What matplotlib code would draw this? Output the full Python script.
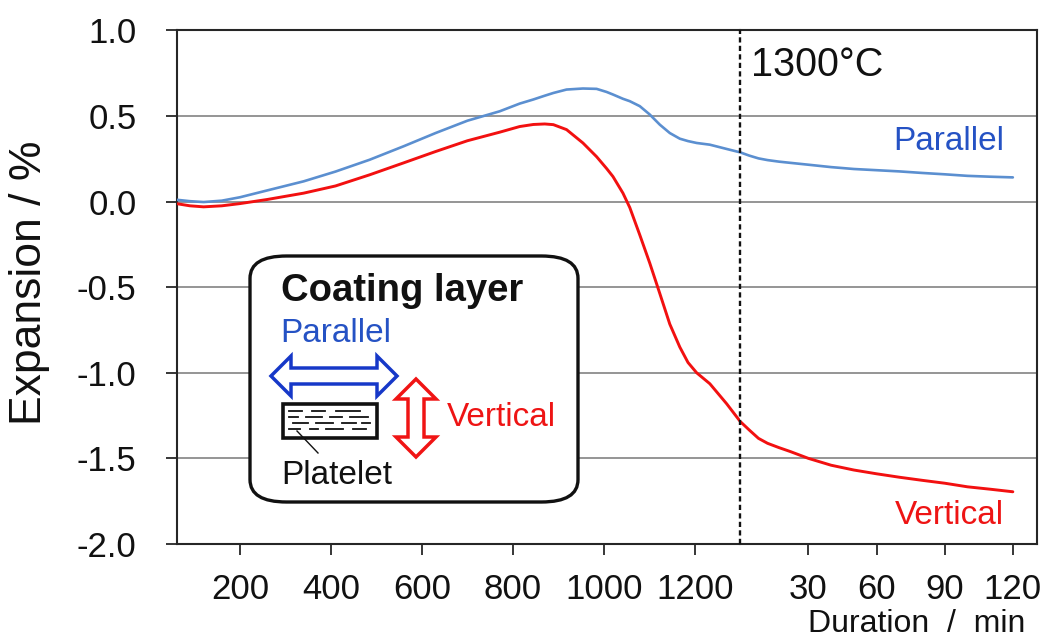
import numpy as np
import matplotlib
matplotlib.use("Agg")
import matplotlib.pyplot as plt
from matplotlib.patches import FancyBboxPatch, Polygon, Rectangle
from matplotlib.lines import Line2D

plt.rcParams['font.family'] = ['Liberation Sans', 'DejaVu Sans']
plt.rcParams['axes.unicode_minus'] = False

# ---------------- data ----------------
# heating stage (temperature, degC)
heat_temp = [62, 90, 120, 160, 200, 260, 340, 410, 485, 560, 630, 700, 771, 815, 845,
             870, 889, 918, 954, 984, 1006, 1020, 1042, 1057, 1079, 1101, 1123, 1145,
             1167, 1185, 1204, 1233, 1270, 1300]
heat_parallel = [0.010, 0.002, -0.003, 0.005, 0.025, 0.065, 0.118, 0.175, 0.244, 0.323,
                 0.400, 0.472, 0.527, 0.572, 0.596, 0.618, 0.634, 0.654, 0.660, 0.658,
                 0.640, 0.625, 0.600, 0.586, 0.557, 0.508, 0.449, 0.400, 0.367, 0.353,
                 0.342, 0.332, 0.307, 0.287]
heat_vertical = [-0.013, -0.025, -0.031, -0.025, -0.012, 0.012, 0.049, 0.091, 0.156, 0.226,
                 0.292, 0.355, 0.405, 0.438, 0.450, 0.453, 0.449, 0.420, 0.342, 0.262,
                 0.193, 0.146, 0.049, -0.035, -0.195, -0.360, -0.537, -0.716, -0.850, -0.940,
                 -1.000, -1.064, -1.181, -1.285]

# holding stage at 1300 degC (duration, min)
hold_min = [0, 4, 8, 12, 17, 22, 30, 40, 50, 60, 70, 80, 90, 100, 110, 120]
hold_parallel = [0.287, 0.268, 0.252, 0.242, 0.233, 0.226, 0.215, 0.201, 0.190, 0.183,
                 0.176, 0.167, 0.159, 0.150, 0.145, 0.141]
hold_vertical = [-1.285, -1.335, -1.383, -1.412, -1.437, -1.460, -1.500, -1.540, -1.568,
                 -1.590, -1.610, -1.628, -1.645, -1.666, -1.680, -1.695]

temp_ticks = [200, 400, 600, 800, 1000, 1200]
time_ticks = [30, 60, 90, 120]
y_ticks = [1.0, 0.5, 0.0, -0.5, -1.0, -1.5, -2.0]
y_ticklabels = ['1.0', '0.5', '0.0', '-0.5', '-1.0', '-1.5', '-2.0']

# ---------------- styling ----------------
W, H = 1045, 639
C_PAR = '#5B8FD0'
C_VER = '#F21010'
C_PAR_TXT = '#2552C4'
C_VER_TXT = '#EE1414'
SPINE = '#262626'
GRID = '#8C8C8C'
FS_TICK = 25
FS_LBL = 24

fig = plt.figure(figsize=(W / 100, H / 100), dpi=100)

def fx(x):
    return x / W

def fy(y):
    return 1 - y / H

left_px, right_px, top_px, bot_px, split_px = 177, 1036.7, 30.3, 544, 740.3
ax1 = fig.add_axes([fx(left_px), fy(bot_px), (split_px - left_px) / W, (bot_px - top_px) / H])
ax2 = fig.add_axes([fx(split_px), fy(bot_px), (right_px - split_px) / W, (bot_px - top_px) / H],
                   sharey=ax1)

for ax in (ax1, ax2):
    ax.set_ylim(-2.0, 1.0)
    ax.set_yticks(y_ticks)
    ax.yaxis.grid(True, color=GRID, linewidth=1.3)
    ax.set_axisbelow(True)
    for s in ax.spines.values():
        s.set_color(SPINE)
        s.set_linewidth(1.5)
    ax.tick_params(axis='both', direction='out', length=8, width=1.3, color=SPINE,
                   labelsize=FS_TICK, labelcolor='#111111')
    ax.tick_params(axis='x', pad=13)

ax1.set_xlim(61.5, 1300)
ax2.set_xlim(0, 130.5)
ax1.spines['right'].set_visible(False)
ax2.spines['left'].set_visible(False)
ax1.set_xticks(temp_ticks)
ax2.set_xticks(time_ticks)
ax1.set_yticklabels(y_ticklabels)
ax1.tick_params(axis='y', pad=21)
ax2.tick_params(axis='y', left=False, labelleft=False)

kw = dict(solid_capstyle='round', solid_joinstyle='round', zorder=3)
ax1.plot(heat_temp, heat_parallel, color=C_PAR, lw=1.9, **kw)
ax1.plot(heat_temp, heat_vertical, color=C_VER, lw=2.1, **kw)
ax2.plot(hold_min, hold_parallel, color=C_PAR, lw=1.9, **kw)
ax2.plot(hold_min, hold_vertical, color=C_VER, lw=2.1, **kw)

ax2.axvline(0, color='#111111', lw=1.7, linestyle=(0, (2.2, 1.4)), zorder=4, clip_on=False)

# texts
fig.text(fx(30), fy(283), 'Expansion / %', rotation=90, ha='center', va='center', fontsize=32,
         color='#111111')
fig.text(fx(1025), fy(624), 'Duration  /  min', ha='right', va='center', fontsize=23,
         color='#111111')
fig.text(fx(751), fy(65), '1300°C', ha='left', va='center', fontsize=28.5, color='#111111')
fig.text(fx(1004), fy(142), 'Parallel', ha='right', va='center', fontsize=FS_LBL, color=C_PAR_TXT)
fig.text(fx(1004), fy(516), 'Vertical', ha='right', va='center', fontsize=FS_LBL, color=C_VER_TXT)

# ---------------- inset schematic ----------------
tf = fig.transFigure
box = FancyBboxPatch((fx(250), fy(502)), (578 - 250) / W, (502 - 256) / H,
                     boxstyle='round,pad=0,rounding_size=0.035', transform=tf,
                     facecolor='white', edgecolor='#111111', linewidth=2.4, zorder=10)
fig.add_artist(box)
fig.text(fx(281), fy(291), 'Coating layer', ha='left', va='center', fontsize=27.5,
         fontweight='bold', color='#111111', zorder=11)
fig.text(fx(280), fy(333), 'Parallel', ha='left', va='center', fontsize=FS_LBL, color=C_PAR_TXT,
         zorder=11)
fig.text(fx(447), fy(418), 'Vertical', ha='left', va='center', fontsize=FS_LBL, color=C_VER_TXT,
         zorder=11)
fig.text(fx(281), fy(475), 'Platelet', ha='left', va='center', fontsize=FS_LBL, color='#111111',
         zorder=11)

def poly(points, ec):
    p = Polygon([(fx(x), fy(y)) for x, y in points], closed=True, transform=tf,
                facecolor='white', edgecolor=ec, linewidth=2.5, joinstyle='miter', zorder=11)
    fig.add_artist(p)

# horizontal double arrow
cy, x0, x1, hl, hh, sh = 376, 271, 397, 20, 20, 8
poly([(x0, cy), (x0 + hl, cy - hh), (x0 + hl, cy - sh), (x1 - hl, cy - sh), (x1 - hl, cy - hh),
      (x1, cy), (x1 - hl, cy + hh), (x1 - hl, cy + sh), (x0 + hl, cy + sh), (x0 + hl, cy + hh)],
     '#1638C8')
# vertical double arrow
cx, y0, y1, hl, hw, sw = 416, 379, 457, 20, 20, 8
poly([(cx, y0), (cx + hw, y0 + hl), (cx + sw, y0 + hl), (cx + sw, y1 - hl), (cx + hw, y1 - hl),
      (cx, y1), (cx - hw, y1 - hl), (cx - sw, y1 - hl), (cx - sw, y0 + hl), (cx - hw, y0 + hl)],
     '#F01414')

# platelet block
rect = Rectangle((fx(283), fy(438)), (377 - 283) / W, (438 - 404) / H, transform=tf,
                 facecolor='white', edgecolor='#111111', linewidth=2.6, zorder=11)
fig.add_artist(rect)
rows = [
    (411, [(289, 302), (312, 325), (336, 360)]),
    (417, [(289, 298), (306, 322), (330, 342), (350, 368)]),
    (423, [(293, 308), (316, 333), (342, 356), (362, 370)]),
    (429, [(289, 300), (310, 318), (326, 343), (353, 366)]),
]
for yy, segs in rows:
    for a, b in segs:
        fig.add_artist(Line2D([fx(a), fx(b)], [fy(yy), fy(yy)], transform=tf,
                              color='#111111', lw=1.3, zorder=12))
fig.add_artist(Line2D([fx(297), fx(318)], [fy(431), fy(453)], transform=tf,
                      color='#111111', lw=1.0, zorder=12))

fig.savefig('out.png', dpi=100)
